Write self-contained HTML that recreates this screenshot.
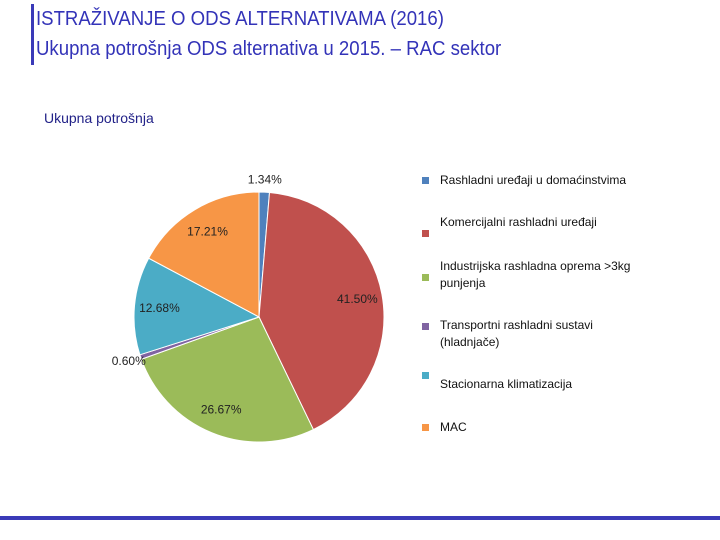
<!DOCTYPE html>
<html><head><meta charset="utf-8"><style>
body{margin:0;width:720px;height:540px;background:#fff;position:relative;overflow:hidden;font-family:"Liberation Sans",sans-serif}
.t{position:absolute;left:36px;color:#3333b8;font-size:20px;white-space:nowrap;transform:scaleX(0.93);transform-origin:left}
.leg{position:absolute;left:440px;font-size:12px;color:#111;line-height:17px}
.sw{position:absolute;left:422px;width:7px;height:7px}
</style></head><body>
<div style="position:absolute;left:31px;top:4px;width:3px;height:61px;background:#3a3ab8"></div>
<div class="t" style="top:8px">ISTRAŽIVANJE O ODS ALTERNATIVAMA (2016)</div>
<div class="t" style="top:38px">Ukupna potrošnja ODS alternativa u 2015. – RAC sektor</div>
<div style="position:absolute;left:44px;top:110px;font-size:14px;color:#222288">Ukupna potrošnja</div>
<svg id="pie" width="720" height="540" style="position:absolute;left:0;top:0"></svg>
<div class="sw" style="top:177px;background:#4f81bd"></div>
<div class="leg" style="top:172px">Rashladni uređaji u domaćinstvima</div>
<div class="sw" style="top:230px;background:#c0504d"></div>
<div class="leg" style="top:214px">Komercijalni rashladni uređaji</div>
<div class="sw" style="top:274px;background:#9bbb59"></div>
<div class="leg" style="top:258px">Industrijska rashladna oprema &gt;3kg<br>punjenja</div>
<div class="sw" style="top:323px;background:#8064a2"></div>
<div class="leg" style="top:317px">Transportni rashladni sustavi<br>(hladnjače)</div>
<div class="sw" style="top:372px;background:#4bacc6"></div>
<div class="leg" style="top:376px">Stacionarna klimatizacija</div>
<div class="sw" style="top:424px;background:#f79646"></div>
<div class="leg" style="top:419px">MAC</div>
<div style="position:absolute;left:0;top:516px;width:720px;height:4px;background:#3a3ab8"></div>
<script>
const categories=["Rashladni uređaji u domaćinstvima","Komercijalni rashladni uređaji","Industrijska rashladna oprema >3kg punjenja","Transportni rashladni sustavi (hladnjače)","Stacionarna klimatizacija","MAC"];
const values=[1.34,41.50,26.67,0.60,12.68,17.21];
const labels=["1.34%","41.50%","26.67%","0.60%","12.68%","17.21%"];
const colors=["#4f81bd","#c0504d","#9bbb59","#8064a2","#4bacc6","#f79646"];
const svg=document.getElementById('pie');const NS='http://www.w3.org/2000/svg';
const cx=259,cy=317,r=125;
const total=values.reduce((a,b)=>a+b,0);
function pt(frac,rad){const a=frac*2*Math.PI;return [cx+rad*Math.sin(a),cy-rad*Math.cos(a)];}
let acc=0;
values.forEach((v,i)=>{
 const s=acc/total,e=(acc+v)/total;acc+=v;
 const [x1,y1]=pt(s,r),[x2,y2]=pt(e,r);
 const p=document.createElementNS(NS,'path');
 p.setAttribute('d',`M${cx},${cy} L${x1},${y1} A${r},${r} 0 ${(e-s)>0.5?1:0} 1 ${x2},${y2} Z`);
 p.setAttribute('fill',colors[i]);p.setAttribute('stroke','#fff');p.setAttribute('stroke-width','1');
 
 
 svg.appendChild(p);
 const m=(s+e)/2;const [lx,ly]=pt(m,(v/total<0.05)?r*1.1:r*0.8);
 const t=document.createElementNS(NS,'text');
 t.setAttribute('x',lx);t.setAttribute('y',ly+4);t.setAttribute('text-anchor','middle');
 t.setAttribute('font-size','12');t.setAttribute('font-family','Liberation Sans, sans-serif');t.setAttribute('fill','#222');
 t.textContent=labels[i];
 
 
 svg.appendChild(t);
});
</script>
</body></html>
